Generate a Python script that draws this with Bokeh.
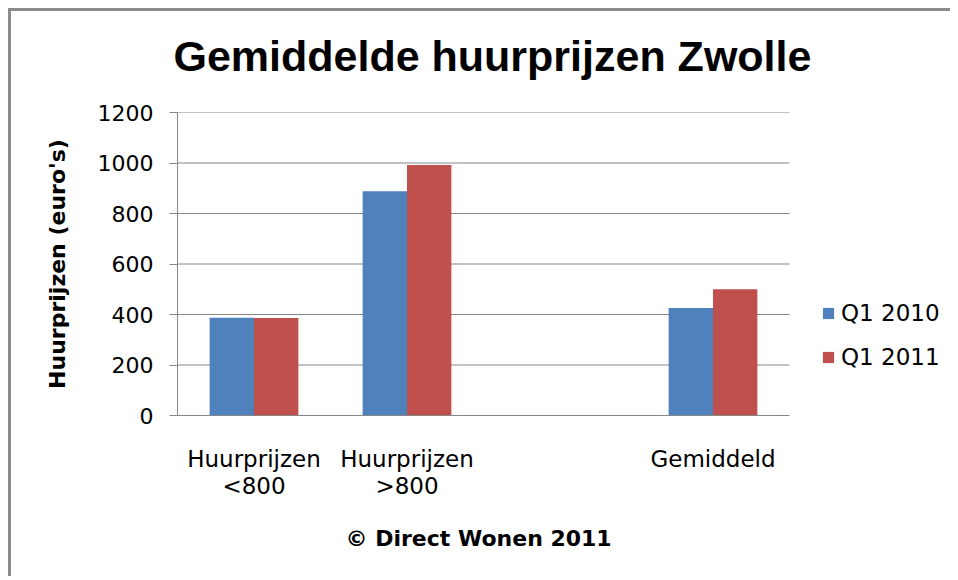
from bokeh.plotting import figure
from bokeh.models import ColumnDataSource, FactorRange, Legend, LegendItem, Title
from bokeh.transform import dodge
from bokeh.embed import file_html
from bokeh.resources import INLINE

categories = ["Huurprijzen\n<800", "Huurprijzen\n>800", " ", "Gemiddeld"]
bar_categories = ["Huurprijzen\n<800", "Huurprijzen\n>800", "Gemiddeld"]
series_names = ["Q1 2010", "Q1 2011"]
q1_2010 = [387, 888, 426]
q1_2011 = [386, 992, 500]
y_ticks = [0, 200, 400, 600, 800, 1000, 1200]

FONT = "DejaVu Sans"
TITLE_FONT = "Liberation Sans"
GRID = "#868686"
FRAME = "#8c8c8c"

src = ColumnDataSource(dict(cat=bar_categories, a=q1_2010, b=q1_2011))

frame_css = (f"linear-gradient({FRAME},{FRAME}) 8px 12px / 100% 3px no-repeat, "
             f"linear-gradient({FRAME},{FRAME}) 8px 12px / 3px 100% no-repeat")

# an extra blank slot on the right holds the legend
p = figure(
    x_range=FactorRange(*(categories + ["  "]), range_padding=0),
    y_range=(0, 1200),
    width=950, height=580,
    min_border_left=177, min_border_right=8,
    min_border_top=116, min_border_bottom=160,
    output_backend="svg", toolbar_location=None,
    styles={"margin-top": "-4px", "background": frame_css},
)
p.border_fill_color = None

p.title.text = "Gemiddelde huurprijzen Zwolle"
p.title.text_font = TITLE_FONT
p.title.text_font_size = "43px"
p.title.text_font_style = "bold"
p.title.text_color = "black"
p.title.align = "left"
p.title.offset = -4
p.title.standoff = 66

# horizontal gridlines over the four category slots
grid_src = ColumnDataSource(dict(y=y_ticks[1:], x0=[0] * (len(y_ticks) - 1),
                                 x1=[len(categories)] * (len(y_ticks) - 1)))
p.segment(x0="x0", x1="x1", y0="y", y1="y", source=grid_src, line_color=GRID, line_width=1)

r1 = p.vbar(x=dodge("cat", -0.145, range=p.x_range), top="a", width=0.29, source=src,
            fill_color="#4F81BD", line_color=None)
r2 = p.vbar(x=dodge("cat", 0.145, range=p.x_range), top="b", width=0.29, source=src,
            fill_color="#C0504D", line_color=None)

p.outline_line_color = None
p.xgrid.grid_line_color = None
p.ygrid.grid_line_color = None

p.yaxis.ticker = y_ticks
p.yaxis.axis_line_color = GRID
p.yaxis.major_tick_line_color = GRID
p.yaxis.major_tick_out = 8
p.yaxis.major_tick_in = 0
p.yaxis.minor_tick_line_color = None
p.yaxis.major_label_text_font = FONT
p.yaxis.major_label_text_font_size = "22px"
p.yaxis.major_label_text_color = "black"
p.yaxis.major_label_standoff = 16
p.yaxis.axis_label = "Huurprijzen (euro's)"
p.yaxis.axis_label_text_font = FONT
p.yaxis.axis_label_text_font_size = "22px"
p.yaxis.axis_label_text_font_style = "bold"
p.yaxis.axis_label_text_color = "black"
p.yaxis.axis_label_standoff = 25

p.xaxis.bounds = (0, len(categories))
p.xaxis.axis_line_color = GRID
p.xaxis.major_tick_line_color = None
p.xaxis.major_label_text_font = FONT
p.xaxis.major_label_text_font_size = "23px"
p.xaxis.major_label_text_color = "black"
p.xaxis.major_label_text_line_height = 1.05
p.xaxis.major_label_standoff = 24

footer = Title(text="© Direct Wonen 2011", text_font=FONT, text_font_size="22px",
               text_font_style="bold", text_color="black", align="left", offset=168,
               vertical_align="top", standoff=48)
p.add_layout(footer, "below")

legend = Legend(
    items=[LegendItem(label=series_names[0], renderers=[r1]),
           LegendItem(label=series_names[1], renderers=[r2])],
    location=(644, 45),
    glyph_width=14, glyph_height=14, label_height=26, spacing=18,
    label_standoff=6, padding=0, margin=0,
    border_line_color=None, background_fill_alpha=0,
    label_text_font=FONT, label_text_font_size="23px", label_text_color="black",
)
p.add_layout(legend, "center")

open("out.html", "w").write(file_html(p, INLINE))
